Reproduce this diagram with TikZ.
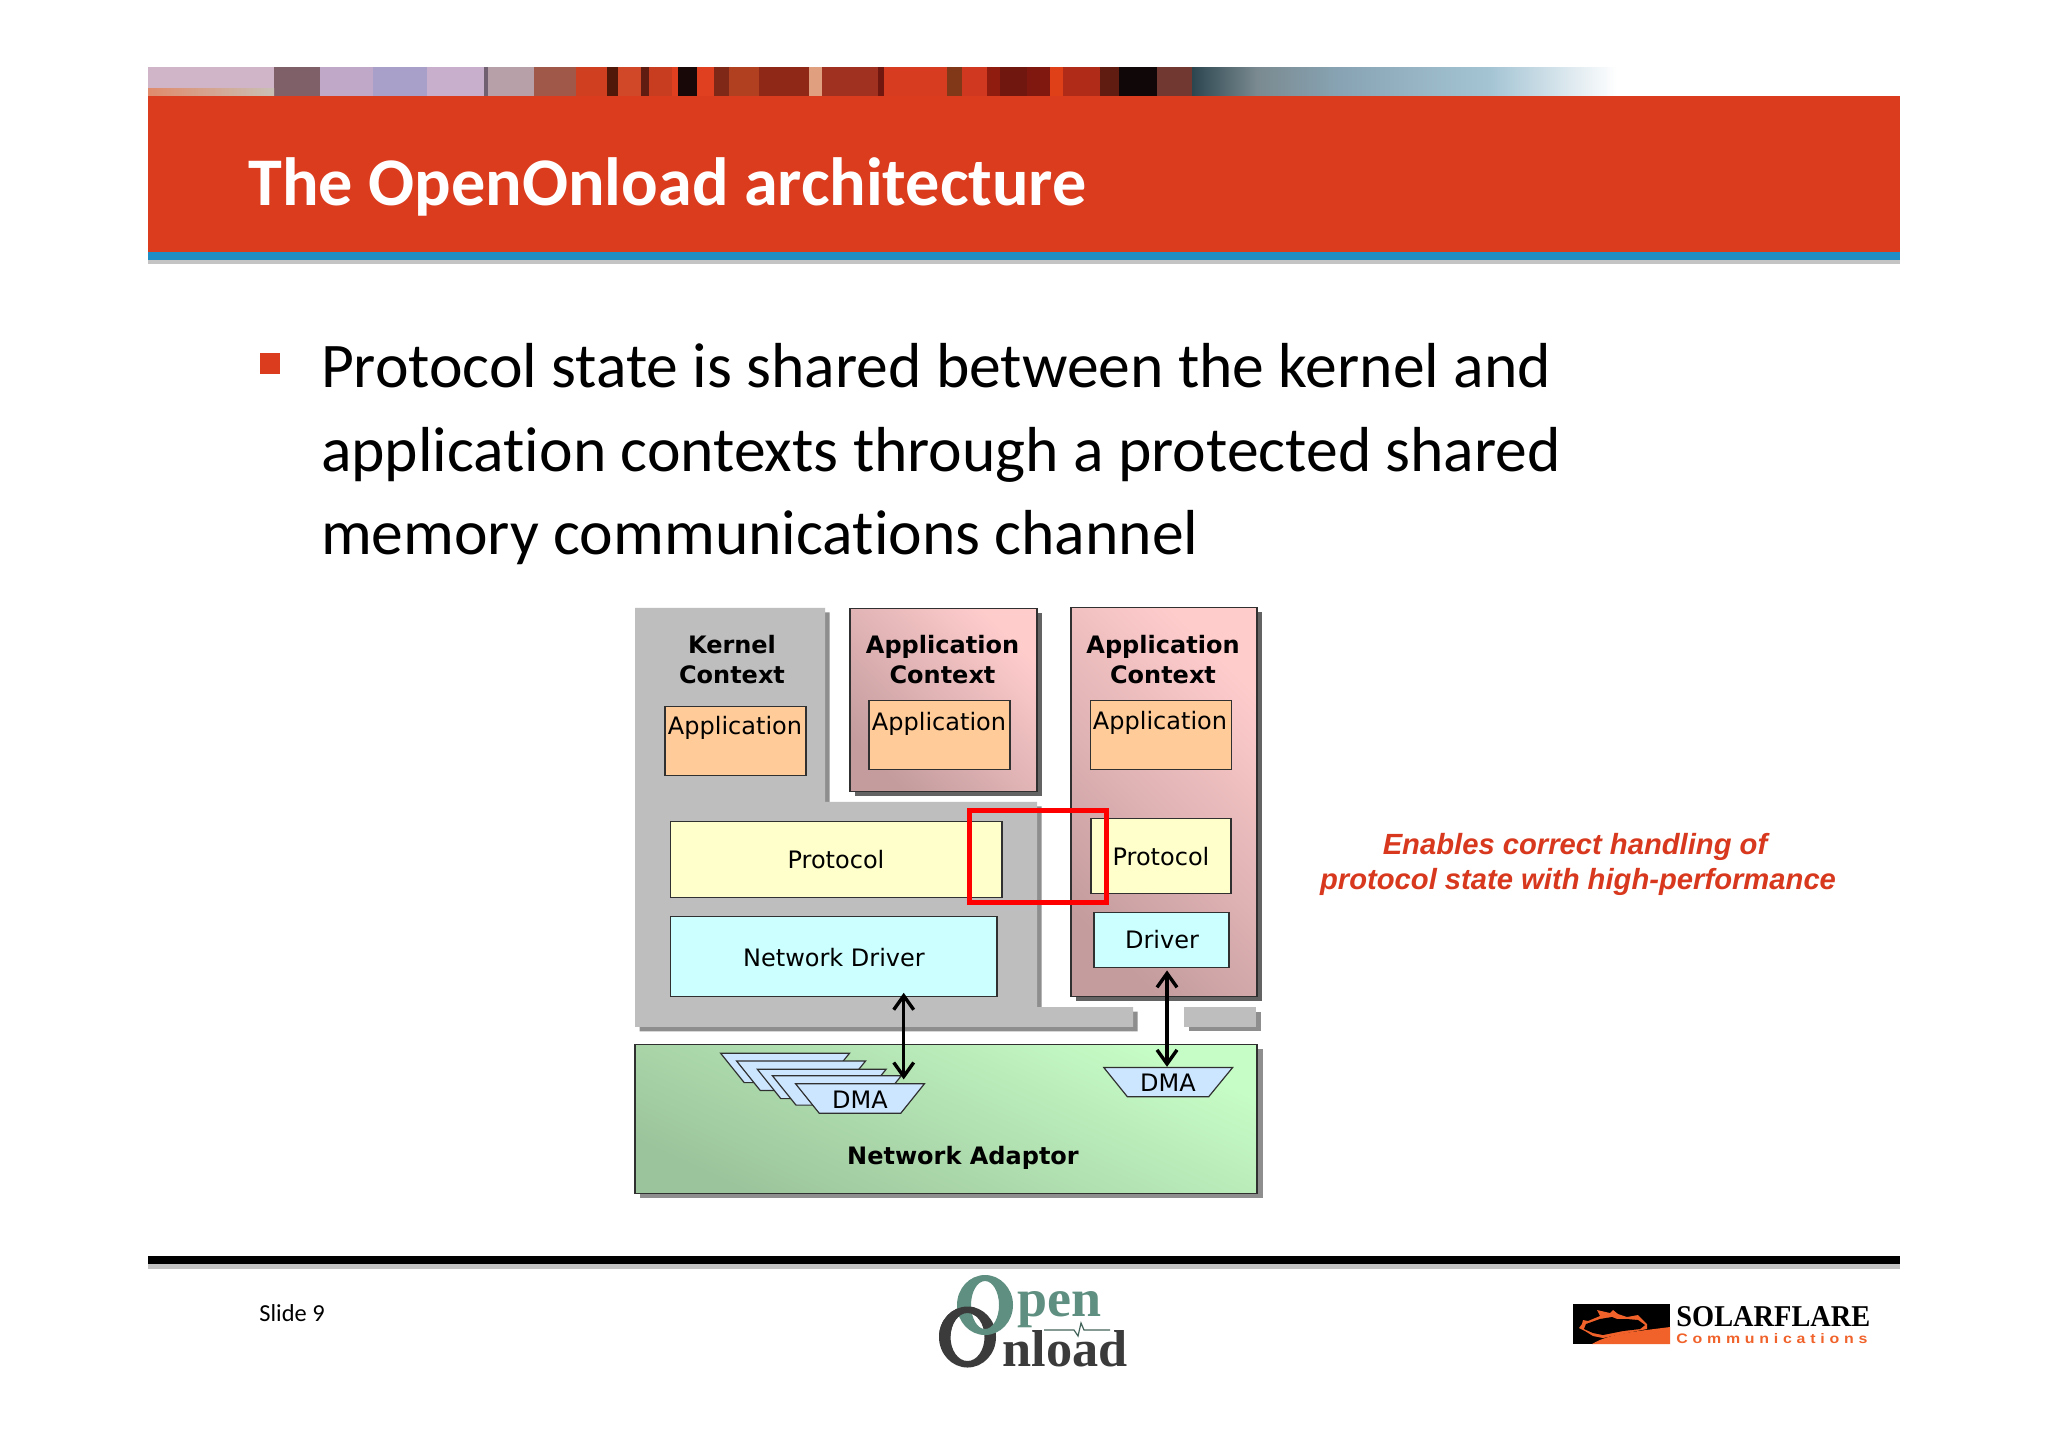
\documentclass[tikz,border=0pt]{standalone}
\usepackage{fontspec}
\usepackage{graphicx}
\usetikzlibrary{arrows.meta}
\setmainfont{Carlito}[Ligatures={NoCommon}]
\newfontfamily\dvs{DejaVu Sans}
\newfontfamily\libs{Liberation Sans}
\newfontfamily\libser{Liberation Serif}
\newfontfamily\libsp[LetterSpace=30]{Liberation Sans}
\definecolor{hdr}{HTML}{DC3C1E}
\definecolor{hblue}{HTML}{1E8EC4}
\definecolor{dots}{HTML}{C4C4C4}
\definecolor{kgrey}{HTML}{BEBEBE}
\definecolor{kshadow}{HTML}{8E8E8E}
\definecolor{boxline}{HTML}{303030}
\definecolor{appbox}{HTML}{FFCC99}
\definecolor{protobox}{HTML}{FFFFCC}
\definecolor{drvbox}{HTML}{CCFFFF}
\definecolor{dmabox}{HTML}{CCE6FF}
\definecolor{redtxt}{HTML}{D8391E}
\definecolor{ctxdark}{HTML}{C49C9E}
\definecolor{ctxlight}{HTML}{FFCCCC}
\definecolor{nicdark}{HTML}{9CC49C}
\definecolor{niclight}{HTML}{C6FCC6}
\definecolor{teal}{HTML}{5F8F80}
\definecolor{darklogo}{HTML}{3B3B3B}
\definecolor{flare}{HTML}{F0622A}
\definecolor{slateA}{HTML}{2C4650}
\definecolor{slateB}{HTML}{7A8A90}
\definecolor{slateC}{HTML}{88A4B4}
\definecolor{slateD}{HTML}{A4C4D4}
\newcommand{\fs}[1]{\fontsize{#1}{#1}\selectfont}
\tikzset{
  pxsize/.style 2 args={minimum width=#1*0.5pt, minimum height=#2*0.5pt},
  box/.style={draw=boxline, line width=.6pt, anchor=north west, inner sep=0pt, outer sep=0pt},
  appb/.style={box, fill=appbox},
  protob/.style={box, fill=protobox},
  drvb/.style={box, fill=drvbox},
  ctx/.style={box, bottom color=ctxdark, top color=ctxlight, shading angle=-45},
  nic/.style={box, bottom color=nicdark, top color=niclight, shading angle=-25},
  txt/.style={anchor=base, inner sep=0pt, outer sep=0pt, font=\dvs\fs{12}},
  btxt/.style={anchor=base, inner sep=0pt, outer sep=0pt, font=\dvs\bfseries\fs{12}},
  bullettxt/.style={anchor=base west, inner sep=0pt, outer sep=0pt, font=\fs{31.8}},
  redline/.style={anchor=base, inner sep=0pt, outer sep=0pt, text=redtxt, font=\libs\bfseries\itshape\fs{14.6}},
  dma/.style={draw=boxline, line width=.6pt, fill=dmabox},
  dbl/.style={line width=1.7pt, black, {Straight Barb[length=7pt,width=10pt]}-{Straight Barb[length=7pt,width=10pt]}},
}
\begin{document}
\begin{tikzpicture}[x=0.5pt,y=-0.5pt]
\useasboundingbox (0,0) rectangle (2048,1447);
\fill[white] (0,0) rectangle (2048,1447);
% header photo band
\foreach \a/\b/\c in {148/274/D0B4C8,274/320/806068,320/373/C0A8C8,373/427/A8A0C8,427/484/C8B0CC,484/488/706070,488/534/B8A0A8,534/576/A05848,576/607/D04020,607/618/501808,618/641/D04828,641/649/601C10,649/672/C83C20,672/678/E04020,678/697/180808,697/714/E04020,714/729/802818,729/759/B04020,759/809/902818,809/822/E0A080,822/878/A03020,878/884/701810,884/947/D83C20,947/962/803818,962/987/D03820,987/1000/901C10,1000/1027/701810,1027/1050/801810,1050/1063/E04018,1063/1100/B02C18,1100/1119/601C10,1119/1157/100808,1157/1192/703830}{
  \definecolor{bandc}{HTML}{\c}
  \fill[bandc] (\a,67) rectangle (\b+0.5,96);
}
\fill[left color=slateA, right color=slateB] (1192,67) rectangle (1257,96);
\fill[left color=slateB, right color=slateC] (1257,67) rectangle (1340,96);
\fill[left color=slateC, right color=slateD] (1340,67) rectangle (1490,96);
\fill[left color=slateD, right color=white] (1490,67) rectangle (1617,96);
\fill[left color=brown!70!red!70, right color=brown!30!gray!50] (148,88) rectangle (274,96);
% header bars
\fill[hdr] (148,95.5) rectangle (1899.5,252);
\fill[hblue] (148,252) rectangle (1899.5,260);
\fill[dots] (148,260) rectangle (1899.5,264);
\node[anchor=base west, inner sep=0pt, text=white, font=\bfseries\fs{34.1}] (title) at (248,205) {The OpenOnload architecture};
% bullet
\fill[hdr] (260,353) rectangle (279.5,374);
\node[bullettxt] (l1) at (321,387.5) {Protocol state is shared between the kernel and};
\node[bullettxt] (l2) at (321,471) {application contexts through a protected shared};
\node[bullettxt] (l3) at (321,554.5) {memory communications channel};
\begin{scope}[yshift=-0.4pt]
% kernel context
\fill[kshadow] (639.6,611.5) -- (829.6,611.5) -- (829.6,805.5) -- (1041.6,805.5) -- (1041.6,1010.8) -- (1137.6,1010.8) -- (1137.6,1030.5) -- (639.6,1030.5) -- cycle;
\fill[kgrey] (635,607) -- (825,607) -- (825,801) -- (1037,801) -- (1037,1006.3) -- (1133,1006.3) -- (1133,1026) -- (635,1026) -- cycle;
\fill[kshadow] (1188.6,1010.8) rectangle (1260.6,1030.5);
\fill[kgrey] (1184,1006.3) rectangle (1256,1026);
% application contexts
\fill[kshadow!70!black] (854.6,612) rectangle (1041.6,795.5);
\node[ctx, pxsize={187}{183.5}] (ctxa) at (850,607.5) {};
\fill[kshadow!70!black] (1075.6,611.2) rectangle (1261.6,1000.5);
\node[ctx, pxsize={186}{389.3}] (ctxb) at (1071,606.7) {};
% inner boxes
\node[appb, pxsize={141}{68.5}] (appk) at (665,706) {};
\node[appb, pxsize={141}{69}] (appa) at (869,700) {};
\node[appb, pxsize={141}{69}] (appc) at (1090.5,699.4) {};
\node[protob, pxsize={331.5}{75.5}] (protok) at (670.5,821) {};
\node[drvb, pxsize={326.5}{80.3}] (netdrv) at (670.5,915.7) {};
\node[protob, pxsize={140}{75}] (protoc) at (1091,818) {};
\node[drvb, pxsize={135}{54.7}] (drv) at (1094,911.6) {};
% network adaptor
\fill[kshadow] (639.6,1048) rectangle (1262.6,1197.5);
\node[nic, pxsize={622}{149.5}] (nicbox) at (635,1043.5) {};
% DMA
\draw[dma] (720.6,1052.4) -- (849.5,1052.4) -- (825.9,1081.8) -- (744.2,1081.8) -- cycle;
\draw[dma] (736.6,1060.2) -- (865.5,1060.2) -- (841.9,1089.6) -- (760.2,1089.6) -- cycle;
\draw[dma] (757.3,1068.4) -- (886.1,1068.4) -- (862.5,1097.8) -- (780.8,1097.8) -- cycle;
\draw[dma] (772.4,1074.9) -- (901.3,1074.9) -- (877.7,1104.3) -- (796,1104.3) -- cycle;
\draw[dma] (795.6,1083) -- (924.4,1083) -- (900.8,1112.4) -- (819.2,1112.4) -- cycle;
\draw[dma] (1103.8,1066.7) -- (1232.6,1066.7) -- (1208.6,1096) -- (1127.4,1096) -- cycle;
% arrows
\coordinate (dmaLtop) at (903.7,1078.6);
\coordinate (dmaRtop) at (1167,1066);
\coordinate (netout) at (903.7,992);
\coordinate (drvout) at (1167,969.6);
\draw[dbl] (netout) -- (dmaLtop);
\draw[dbl] (drvout) -- (dmaRtop);
% red highlight
\draw[red, line width=2.5pt] (969,809.5) rectangle (1106,901.5);
\end{scope}
% diagram labels
\node[btxt] (t1) at (732,653) {Kernel};
\node[btxt] (t2) at (732,683) {Context};
\node[btxt] (t3) at (942.5,653) {Application};
\node[btxt] (t4) at (942.5,683) {Context};
\node[btxt] (t5) at (1163,653) {Application};
\node[btxt] (t6) at (1163,683) {Context};
\node[txt] (t7) at (735,734.5) {Application};
\node[txt] (t8) at (939,730) {Application};
\node[txt] (t9) at (1160,729.5) {Application};
\node[txt] (t10) at (836,868.5) {Protocol};
\node[txt] (t11) at (1161,865.5) {Protocol};
\node[txt] (t12) at (834,966) {Network Driver};
\node[txt] (t13) at (1162,948.4) {Driver};
\node[txt] (t14) at (860,1108) {DMA};
\node[txt] (t15) at (1168,1091.5) {DMA};
\node[btxt] (t16) at (963,1164.5) {Network Adaptor};
% red remark
\node[redline] (r1) at (1575,854) {Enables correct handling of};
\node[redline] (r2) at (1578,889) {protocol state with high-performance};
% footer
\fill[black] (148,1256) rectangle (1899.5,1264);
\fill[dots] (148,1264) rectangle (1899.5,1268.5);
\node[anchor=base west, inner sep=0pt, font=\fs{12.2}] (slide) at (259,1321) {Slide 9};
% OpenOnload logo
\fill[darklogo, even odd rule] (967.5,1337) ellipse [x radius=28.5, y radius=30.5] (967.5,1337) ellipse [x radius=17, y radius=24];
\fill[teal, even odd rule] (985,1305) ellipse [x radius=28, y radius=30] (985,1305) ellipse [x radius=14, y radius=24];
\begin{scope}
\clip (935,1300) rectangle (975,1335);
\fill[darklogo, even odd rule] (967.5,1337) ellipse [x radius=28.5, y radius=30.5] (967.5,1337) ellipse [x radius=17, y radius=24];
\end{scope}
\node[anchor=base west, inner sep=0pt, text=teal] (pen) at (1017,1316.7) {\resizebox{42pt}{12.5pt}{\libser\bfseries pen}};
\node[anchor=base west, inner sep=0pt, text=darklogo] (nload) at (1002,1366) {\resizebox{62.5pt}{18pt}{\libser\bfseries nload}};
\draw[teal!70!black, line width=.6pt] (1044,1330) -- (1074,1330) -- (1078,1336) -- (1081,1323) -- (1084,1330) -- (1110,1330);
% Solarflare logo
\fill[black] (1573,1304) rectangle (1670,1344);
\fill[flare] (1592,1344) .. controls (1610,1333) and (1640,1331) .. (1670,1327) -- (1670,1344) -- cycle;
\fill[flare] (1597,1310) -- (1610,1313) -- (1613,1310) -- (1618,1314) -- (1627,1317) -- (1638,1315) -- (1643,1320) -- (1647,1324) -- (1647,1329) -- (1627,1333) -- (1603,1338) -- (1593,1336) -- (1585,1331) -- (1579,1328) -- (1582,1324) -- (1583,1320) -- (1588,1321) -- (1600,1316) -- cycle;
\fill[black] (1586,1324) -- (1600,1319) -- (1612,1317) -- (1617,1319) -- (1627,1319) -- (1638,1320) -- (1645,1325) -- (1640,1329) -- (1623,1331) -- (1603,1335) -- (1593,1333) -- (1584,1329) -- cycle;
\node[anchor=base west, inner sep=0pt] (sf) at (1676,1326.5) {\resizebox{97pt}{10pt}{\libser\bfseries SOLARFLARE}};
\node[anchor=base west, inner sep=0pt, text=flare] (sfc) at (1676,1343.8) {\resizebox{95.5pt}{5pt}{\libsp\bfseries Communications}};
\end{tikzpicture}
\end{document}
